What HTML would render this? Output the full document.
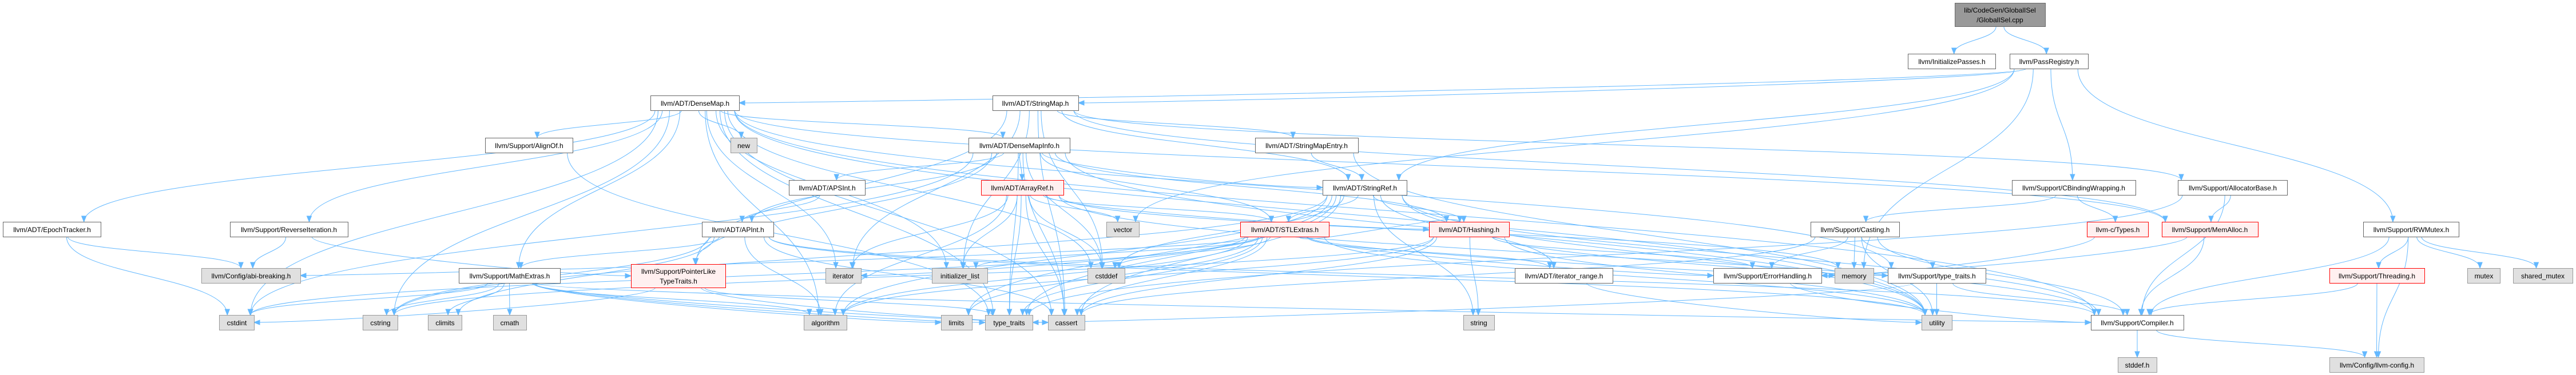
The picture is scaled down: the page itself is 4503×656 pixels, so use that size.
<!DOCTYPE html>
<html><head><meta charset="utf-8"><style>
html,body{margin:0;padding:0;background:#fff;}
svg{display:block;}
text{font-family:"Liberation Sans",Arial,sans-serif;font-size:12px;fill:#000;}
.w{fill:#fff;stroke:#666;stroke-width:1}
.g{fill:#e0e0e0;stroke:#999;stroke-width:1}
.r{fill:#fff0f0;stroke:#f00;stroke-width:1}
.d{fill:#999;stroke:#666;stroke-width:1}
</style></head><body>
<svg id="s" width="4503" height="656" viewBox="0 0 4503 656" xmlns="http://www.w3.org/2000/svg">
<g id="edges" fill="none" stroke="#63b8ff" stroke-width="1"></g>
<g id="heads" fill="#63b8ff" stroke="#63b8ff"></g>
<g id="nodes" text-anchor="middle">
<rect class="d" x="3417.5" y="5.5" width="158" height="41"/><text x="3496" y="22">lib/CodeGen/GlobalISel</text><text x="3496" y="39">/GlobalISel.cpp</text>
<rect class="w" x="3335.5" y="94.5" width="153" height="26"/><text x="3412" y="112">llvm/InitializePasses.h</text>
<rect class="w" x="3513.5" y="94.5" width="137" height="26"/><text x="3582" y="112">llvm/PassRegistry.h</text>
<rect class="w" x="1137.5" y="167.5" width="155" height="26"/><text x="1215" y="185">llvm/ADT/DenseMap.h</text>
<rect class="w" x="1735.5" y="167.5" width="150" height="26"/><text x="1810" y="185">llvm/ADT/StringMap.h</text>
<rect class="w" x="848.5" y="241.5" width="153" height="26"/><text x="925" y="259">llvm/Support/AlignOf.h</text>
<rect class="g" x="1277.5" y="241.5" width="46" height="26"/><text x="1300" y="259">new</text>
<rect class="w" x="1693.5" y="241.5" width="177" height="26"/><text x="1782" y="259">llvm/ADT/DenseMapInfo.h</text>
<rect class="w" x="2194.5" y="241.5" width="180" height="26"/><text x="2284" y="259">llvm/ADT/StringMapEntry.h</text>
<rect class="w" x="1379.5" y="315.5" width="133" height="26"/><text x="1446" y="333">llvm/ADT/APSInt.h</text>
<rect class="r" x="1715.5" y="315.5" width="144" height="26"/><text x="1787" y="333">llvm/ADT/ArrayRef.h</text>
<rect class="w" x="2312.5" y="315.5" width="147" height="26"/><text x="2386" y="333">llvm/ADT/StringRef.h</text>
<rect class="w" x="3517.5" y="315.5" width="216" height="26"/><text x="3625" y="333">llvm/Support/CBindingWrapping.h</text>
<rect class="w" x="3807.5" y="315.5" width="191" height="26"/><text x="3903" y="333">llvm/Support/AllocatorBase.h</text>
<rect class="w" x="5.5" y="388.5" width="171" height="26"/><text x="91" y="406">llvm/ADT/EpochTracker.h</text>
<rect class="w" x="402.5" y="388.5" width="206" height="26"/><text x="505" y="406">llvm/Support/ReverseIteration.h</text>
<rect class="w" x="1227.5" y="388.5" width="125" height="26"/><text x="1290" y="406">llvm/ADT/APInt.h</text>
<rect class="g" x="1934.5" y="388.5" width="57" height="26"/><text x="1963" y="406">vector</text>
<rect class="r" x="2168.5" y="388.5" width="155" height="26"/><text x="2246" y="406">llvm/ADT/STLExtras.h</text>
<rect class="r" x="2498.5" y="388.5" width="140" height="26"/><text x="2568" y="406">llvm/ADT/Hashing.h</text>
<rect class="w" x="3165.5" y="388.5" width="155" height="26"/><text x="3243" y="406">llvm/Support/Casting.h</text>
<rect class="r" x="3648.5" y="388.5" width="107" height="26"/><text x="3702" y="406">llvm-c/Types.h</text>
<rect class="r" x="3779.5" y="388.5" width="168" height="26"/><text x="3863" y="406">llvm/Support/MemAlloc.h</text>
<rect class="w" x="4131.5" y="388.5" width="167" height="26"/><text x="4215" y="406">llvm/Support/RWMutex.h</text>
<rect class="g" x="352.5" y="469.5" width="173" height="26"/><text x="439" y="487">llvm/Config/abi-breaking.h</text>
<rect class="w" x="802.5" y="469.5" width="177" height="26"/><text x="891" y="487">llvm/Support/MathExtras.h</text>
<rect class="r" x="1103.5" y="462.5" width="165" height="41"/><text x="1186" y="479">llvm/Support/PointerLike</text><text x="1186" y="496">TypeTraits.h</text>
<rect class="g" x="1443.5" y="469.5" width="62" height="26"/><text x="1474" y="487">iterator</text>
<rect class="g" x="1629.5" y="469.5" width="97" height="26"/><text x="1678" y="487">initializer_list</text>
<rect class="g" x="1901.5" y="469.5" width="65" height="26"/><text x="1934" y="487">cstddef</text>
<rect class="w" x="2648.5" y="469.5" width="171" height="26"/><text x="2734" y="487">llvm/ADT/iterator_range.h</text>
<rect class="w" x="2995.5" y="469.5" width="189" height="26"/><text x="3090" y="487">llvm/Support/ErrorHandling.h</text>
<rect class="g" x="3207.5" y="469.5" width="68" height="26"/><text x="3241" y="487">memory</text>
<rect class="w" x="3300.5" y="469.5" width="171" height="26"/><text x="3386" y="487">llvm/Support/type_traits.h</text>
<rect class="r" x="4072.5" y="469.5" width="166" height="26"/><text x="4155" y="487">llvm/Support/Threading.h</text>
<rect class="g" x="4313.5" y="469.5" width="57" height="26"/><text x="4342" y="487">mutex</text>
<rect class="g" x="4393.5" y="469.5" width="104" height="26"/><text x="4445" y="487">shared_mutex</text>
<rect class="g" x="383.5" y="551.5" width="61" height="26"/><text x="414" y="569">cstdint</text>
<rect class="g" x="634.5" y="551.5" width="61" height="26"/><text x="665" y="569">cstring</text>
<rect class="g" x="748.5" y="551.5" width="59" height="26"/><text x="778" y="569">climits</text>
<rect class="g" x="862.5" y="551.5" width="58" height="26"/><text x="891" y="569">cmath</text>
<rect class="g" x="1405.5" y="551.5" width="75" height="26"/><text x="1443" y="569">algorithm</text>
<rect class="g" x="1645.5" y="551.5" width="54" height="26"/><text x="1672" y="569">limits</text>
<rect class="g" x="1722.5" y="551.5" width="83" height="26"/><text x="1764" y="569">type_traits</text>
<rect class="g" x="1832.5" y="551.5" width="64" height="26"/><text x="1864" y="569">cassert</text>
<rect class="g" x="2558.5" y="551.5" width="54" height="26"/><text x="2585" y="569">string</text>
<rect class="g" x="3359.5" y="551.5" width="53" height="26"/><text x="3386" y="569">utility</text>
<rect class="w" x="3655.5" y="551.5" width="162" height="26"/><text x="3736" y="569">llvm/Support/Compiler.h</text>
<rect class="g" x="3702.5" y="625.5" width="68" height="26"/><text x="3736" y="643">stddef.h</text>
<rect class="g" x="4072.5" y="625.5" width="165" height="26"/><text x="4155" y="643">llvm/Config/llvm-config.h</text>
</g>
</svg>
<script>
var N={top:[3417,3575,5,46],ip:[3335,3488,94,120],pr:[3513,3650,94,120],dm:[1137,1292,167,193],sm:[1735,1885,167,193],
ao:[848,1001,241,267],nw:[1277,1323,241,267],dmi:[1693,1870,241,267],sme:[2194,2374,241,267],
apsi:[1379,1512,315,341],ar:[1715,1859,315,341],sr:[2312,2459,315,341],cbw:[3517,3733,315,341],ab:[3807,3998,315,341],
et:[5,176,388,414],ri:[402,608,388,414],api:[1227,1352,388,414],vec:[1934,1991,388,414],stl:[2168,2323,388,414],hs:[2498,2638,388,414],
cas:[3165,3320,388,414],ty:[3648,3755,388,414],ma:[3779,3947,388,414],rw:[4131,4298,388,414],
abi:[352,525,469,495],me:[802,979,469,495],pl:[1103,1268,462,503],it:[1443,1505,469,495],il:[1629,1726,469,495],cdf:[1901,1966,469,495],
itr:[2648,2819,469,495],eh:[2995,3184,469,495],mem:[3207,3275,469,495],tth:[3300,3471,469,495],th:[4072,4238,469,495],mu:[4313,4370,469,495],smu:[4393,4497,469,495],
ci:[383,444,551,577],cs:[634,695,551,577],cl:[748,807,551,577],cm:[862,920,551,577],alg:[1405,1480,551,577],lim:[1645,1699,551,577],
tt:[1722,1805,551,577],ca:[1832,1896,551,577],str:[2558,2612,551,577],ut:[3359,3412,551,577],co:[3655,3817,551,577],
sd:[3702,3770,625,651],lc:[4072,4237,625,651]};
var E={top:"ip pr",pr:"dm sm sr cbw rw mem vec",
dm:"et ri ao nw dmi me ma tth alg ca cdf cs il it tt ut co ci",
sm:"sme sr ab ma pl il it cdf ca",dmi:"api apsi ar hs stl sr cdf ci ca tt ut pl",
sme:"sr ut",apsi:"api",api:"me co ca cl cs ut alg",
ar:"hs stl co alg ca cdf il it mem tt vec",sr:"itr stl hs co alg ca cdf cs lim str tt ut",
stl:"hs itr eh alg ca cdf ci il it lim mem tt ut abi",hs:"eh tth alg ca cs str ut",
et:"abi ci",ri:"abi pl",ao:"tt",me:"co alg ca cl cm ci cs lim tt",pl:"ca ci tt",itr:"ut",
cas:"tth co eh ca mem ut",cbw:"cas ty",ty:"eh",eh:"co",tth:"tt ut co",ma:"co eh",ab:"co ma tt",
rw:"co th lc mu smu",th:"co lc",co:"sd lc"};
var ge=document.getElementById('edges'),gh=document.getElementById('heads'),ns='http://www.w3.org/2000/svg';
function cl(v,a,b){return Math.max(a,Math.min(b,v));}
for(var s in E){E[s].split(' ').forEach(function(t){
 var a=N[s],b=N[t];var acx=(a[0]+a[1])/2,bcx=(b[0]+b[1])/2;
 var sx=cl(acx+(bcx-acx)*0.08,a[0]+8,a[1]-8),sy=a[3];
 var dx=bcx-acx,dy=b[2]-a[3],tx,ty,c1,c2;
 if(dy<60&&Math.abs(dx)>600){
   var sg=dx>0?-1:1;tx=dx>0?b[0]:b[1];ty=(b[2]+b[3])/2;
   sx=dx>0?a[0]+10:a[1]-10;if(dx>0)sx=cl(acx+40,a[0]+8,a[1]-8);else sx=cl(acx-40,a[0]+8,a[1]-8);
   c1=[sx,sy+25];c2=[tx+sg*120,ty];
 }else{
   tx=cl(bcx+(acx-bcx)*0.05,b[0]+6,b[1]-6);ty=b[2];
   var k=Math.max(dy*0.5,20);c1=[sx,sy+k];c2=[tx,ty-k];
 }
 var p=document.createElementNS(ns,'path');
 p.setAttribute('d','M'+sx+','+sy+' C'+c1[0]+','+c1[1]+' '+c2[0]+','+c2[1]+' '+tx+','+ty);
 ge.appendChild(p);
 var vx=tx-c2[0],vy=ty-c2[1],L=Math.sqrt(vx*vx+vy*vy)||1;vx/=L;vy/=L;
 var bx=tx-vx*10,by=ty-vy*10,px=-vy*4,py=vx*4;
 var h=document.createElementNS(ns,'polygon');
 h.setAttribute('points',tx+','+ty+' '+(bx+px)+','+(by+py)+' '+(bx-px)+','+(by-py));
 gh.appendChild(h);
});}
</script>
</body></html>
